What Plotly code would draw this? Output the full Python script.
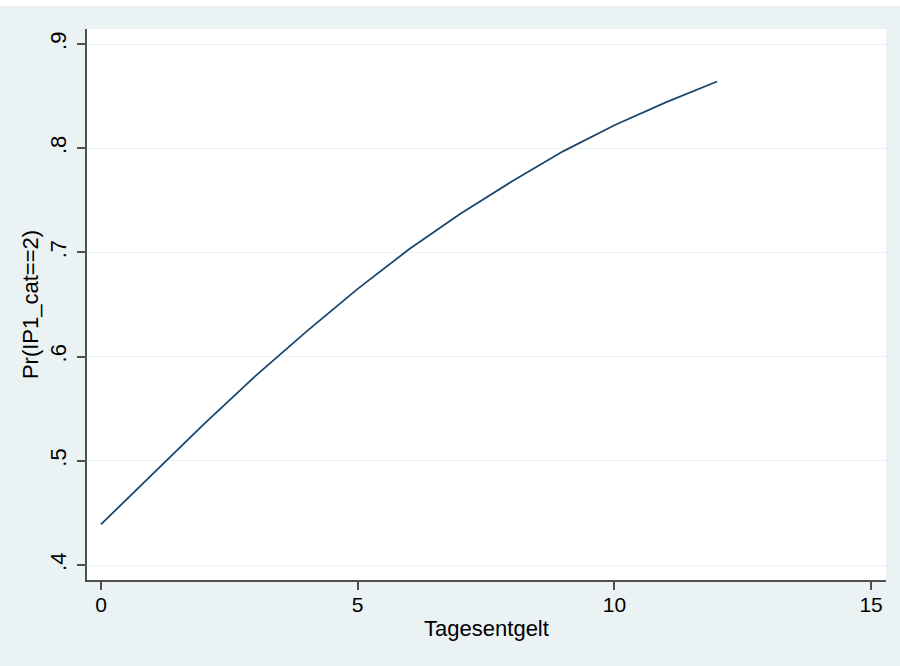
import plotly.graph_objects as go

# Predicted probability of IP1_cat == 2 by daily allowance
tagesentgelt = [0, 1, 2, 3, 4, 5, 6, 7, 8, 9, 10, 11, 12]
pr_ip1_cat2 = [0.439, 0.487, 0.535, 0.581, 0.624, 0.665, 0.703, 0.737,
               0.768, 0.797, 0.822, 0.844, 0.864]

x_ticks = [0, 5, 10, 15]
y_ticks = [0.4, 0.5, 0.6, 0.7, 0.8, 0.9]
y_ticktext = [".4", ".5", ".6", ".7", ".8", ".9"]

BG = "#EAF2F3"
NAVY = "#1A476F"
AXIS = "#505050"
FONT = "Liberation Sans, Arial, sans-serif"

W, H = 900, 666
ML, MR, MT, MB = 87, 14, 29, 86
plot_h = H - MT - MB

fig = go.Figure()
fig.add_trace(go.Scatter(
    x=tagesentgelt, y=pr_ip1_cat2, mode="lines",
    line=dict(color=NAVY, width=1.8), showlegend=False,
))

# thin white strip above the graph region
fig.add_shape(type="rect", xref="paper", yref="paper",
              x0=-0.2, x1=1.2, y0=1 + (MT - 6) / plot_h, y1=1 + (MT + 20) / plot_h,
              fillcolor="white", line=dict(width=0))

fig.update_layout(
    width=W, height=H,
    margin=dict(l=ML, r=MR, t=MT, b=MB, autoexpand=False),
    paper_bgcolor=BG, plot_bgcolor="white",
    font=dict(family=FONT, color="black", size=21),
    xaxis=dict(
        range=[-0.272, 15.29], tickvals=x_ticks, ticktext=[str(v) for v in x_ticks],
        showgrid=False, zeroline=False,
        showline=True, linecolor=AXIS, linewidth=1.5,
        ticks="outside", ticklen=8, tickwidth=1.5, tickcolor=AXIS,
        tickfont=dict(size=21), ticklabelstandoff=-3,
        title=dict(text="Tagesentgelt", font=dict(size=22), standoff=6),
        automargin=False,
    ),
    yaxis=dict(
        range=[0.3856, 0.9144], tickvals=y_ticks, ticktext=y_ticktext,
        tickangle=-90,
        showgrid=True, gridcolor=BG, gridwidth=1.4, zeroline=False,
        showline=True, linecolor=AXIS, linewidth=1.5,
        ticks="outside", ticklen=8, tickwidth=1.5, tickcolor=AXIS,
        tickfont=dict(size=22), ticklabelstandoff=2,
        title=dict(text="Pr(IP1_cat==2)", font=dict(size=22), standoff=2),
        automargin=False,
    ),
)

fig.write_html("out.html")
